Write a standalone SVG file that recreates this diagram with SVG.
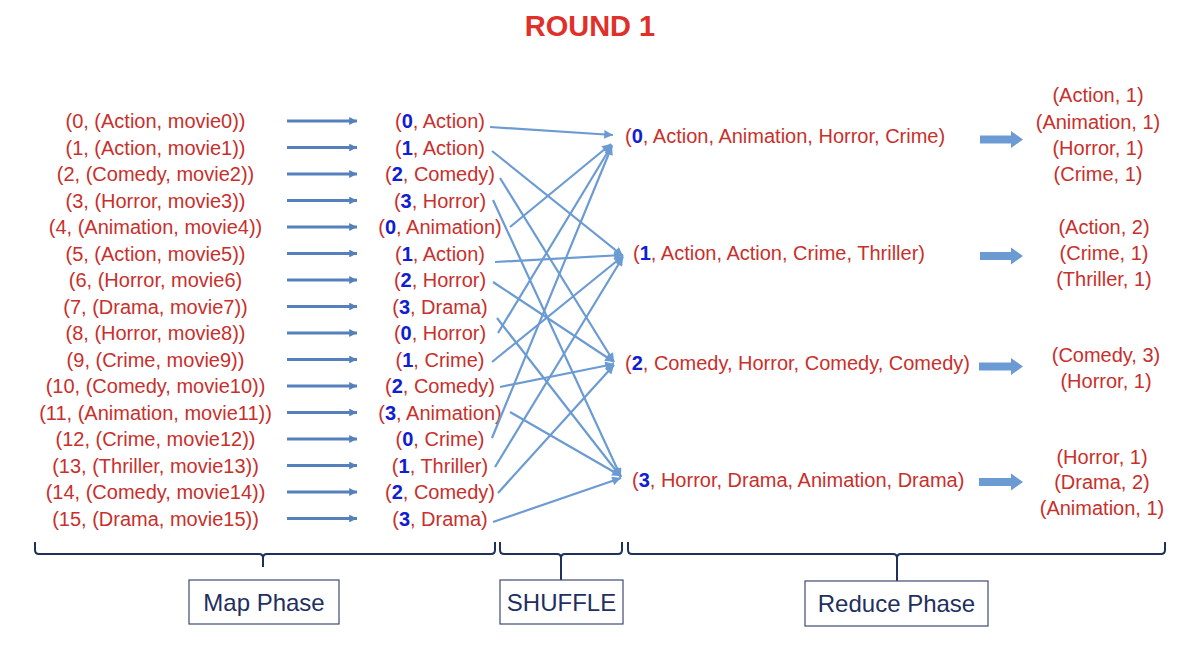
<svg xmlns="http://www.w3.org/2000/svg" width="1184" height="649" viewBox="0 0 1184 649">
<style>
text{font-family:"Liberation Sans",Arial,sans-serif;}
.t{font-size:20px;fill:#c8302c;text-anchor:middle;}
.r{font-size:20px;fill:#c8302c;}
.k{fill:#1020d0;font-weight:bold;}
.title{font-size:29px;font-weight:bold;fill:#e0302a;text-anchor:middle;}
.map{stroke:#5580bb;stroke-width:3;fill:none;}
.sh{stroke:#6b9bd2;stroke-width:2.2;fill:none;}
.fat{fill:#6b9bd2;}
.br{stroke:#1f2f5e;stroke-width:2;fill:none;}
.box{fill:#fff;stroke:#3c4b70;stroke-width:1.2;}
.lbl{font-size:24px;fill:#1f2f5e;text-anchor:middle;}
</style>
<defs>
<marker id="am" viewBox="0 0 10 10" refX="10" refY="5" markerWidth="3" markerHeight="2.6" orient="auto"><path d="M0,0 L10,5 L0,10 z" fill="#5580bb"/></marker>
<marker id="as" viewBox="0 0 10 10" refX="10" refY="5" markerWidth="4.8" markerHeight="4" orient="auto"><path d="M0,0 L10,5 L0,10 z" fill="#6b9bd2"/></marker>
</defs>
<rect width="1184" height="649" fill="#fff"/>
<text class="title" x="590" y="36">ROUND 1</text>

<g id="input">
<text class="t" x="155.5" y="128">(0, (Action, movie0))</text>
<text class="t" x="155.5" y="154.5">(1, (Action, movie1))</text>
<text class="t" x="155.5" y="181">(2, (Comedy, movie2))</text>
<text class="t" x="155.5" y="207.5">(3, (Horror, movie3))</text>
<text class="t" x="155.5" y="234">(4, (Animation, movie4))</text>
<text class="t" x="155.5" y="260.5">(5, (Action, movie5))</text>
<text class="t" x="155.5" y="287">(6, (Horror, movie6)</text>
<text class="t" x="155.5" y="313.5">(7, (Drama, movie7))</text>
<text class="t" x="155.5" y="340">(8, (Horror, movie8))</text>
<text class="t" x="155.5" y="366.5">(9, (Crime, movie9))</text>
<text class="t" x="155.5" y="393">(10, (Comedy, movie10))</text>
<text class="t" x="155.5" y="419.5">(11, (Animation, movie11))</text>
<text class="t" x="155.5" y="446">(12, (Crime, movie12))</text>
<text class="t" x="155.5" y="472.5">(13, (Thriller, movie13))</text>
<text class="t" x="155.5" y="499">(14, (Comedy, movie14))</text>
<text class="t" x="155.5" y="525.5">(15, (Drama, movie15))</text>
</g>

<g id="mapped">
<text class="t" x="440" y="128">(<tspan class="k">0</tspan>, Action)</text>
<text class="t" x="440" y="154.5">(<tspan class="k">1</tspan>, Action)</text>
<text class="t" x="440" y="181">(<tspan class="k">2</tspan>, Comedy)</text>
<text class="t" x="440" y="207.5">(<tspan class="k">3</tspan>, Horror)</text>
<text class="t" x="440" y="234">(<tspan class="k">0</tspan>, Animation)</text>
<text class="t" x="440" y="260.5">(<tspan class="k">1</tspan>, Action)</text>
<text class="t" x="440" y="287">(<tspan class="k">2</tspan>, Horror)</text>
<text class="t" x="440" y="313.5">(<tspan class="k">3</tspan>, Drama)</text>
<text class="t" x="440" y="340">(<tspan class="k">0</tspan>, Horror)</text>
<text class="t" x="440" y="366.5">(<tspan class="k">1</tspan>, Crime)</text>
<text class="t" x="440" y="393">(<tspan class="k">2</tspan>, Comedy)</text>
<text class="t" x="440" y="419.5">(<tspan class="k">3</tspan>, Animation)</text>
<text class="t" x="440" y="446">(<tspan class="k">0</tspan>, Crime)</text>
<text class="t" x="440" y="472.5">(<tspan class="k">1</tspan>, Thriller)</text>
<text class="t" x="440" y="499">(<tspan class="k">2</tspan>, Comedy)</text>
<text class="t" x="440" y="525.5">(<tspan class="k">3</tspan>, Drama)</text>
</g>

<g id="reducer0"><text class="r" x="625" y="143">(<tspan class="k">0</tspan>, Action, Animation, Horror, Crime)</text></g>
<g id="reducer1"><text class="r" x="633" y="260">(<tspan class="k">1</tspan>, Action, Action, Crime, Thriller)</text></g>
<g id="reducer2"><text class="r" x="625" y="370">(<tspan class="k">2</tspan>, Comedy, Horror, Comedy, Comedy)</text></g>
<g id="reducer3"><text class="r" x="632" y="487">(<tspan class="k">3</tspan>, Horror, Drama, Animation, Drama)</text></g>

<g id="output0">
<text class="t" x="1098" y="102">(Action, 1)</text>
<text class="t" x="1098" y="128.5">(Animation, 1)</text>
<text class="t" x="1098" y="155">(Horror, 1)</text>
<text class="t" x="1098" y="181">(Crime, 1)</text>
</g>
<g id="output1">
<text class="t" x="1104" y="234">(Action, 2)</text>
<text class="t" x="1104" y="260">(Crime, 1)</text>
<text class="t" x="1104" y="286">(Thriller, 1)</text>
</g>
<g id="output2">
<text class="t" x="1106" y="362">(Comedy, 3)</text>
<text class="t" x="1106" y="388">(Horror, 1)</text>
</g>
<g id="output3">
<text class="t" x="1102" y="463.5">(Horror, 1)</text>
<text class="t" x="1102" y="489">(Drama, 2)</text>
<text class="t" x="1102" y="514.5">(Animation, 1)</text>
</g>

<g id="connectors">
<g class="map" marker-end="url(#am)">
<line x1="287" y1="121" x2="357" y2="121"/>
<line x1="287" y1="147.5" x2="357" y2="147.5"/>
<line x1="287" y1="174" x2="357" y2="174"/>
<line x1="287" y1="200.5" x2="357" y2="200.5"/>
<line x1="287" y1="227" x2="357" y2="227"/>
<line x1="287" y1="253.5" x2="357" y2="253.5"/>
<line x1="287" y1="280" x2="357" y2="280"/>
<line x1="287" y1="306.5" x2="357" y2="306.5"/>
<line x1="287" y1="333" x2="357" y2="333"/>
<line x1="287" y1="359.5" x2="357" y2="359.5"/>
<line x1="287" y1="386" x2="357" y2="386"/>
<line x1="287" y1="412.5" x2="357" y2="412.5"/>
<line x1="287" y1="439" x2="357" y2="439"/>
<line x1="287" y1="465.5" x2="357" y2="465.5"/>
<line x1="287" y1="492" x2="357" y2="492"/>
<line x1="287" y1="518.5" x2="357" y2="518.5"/>
</g>
<g class="sh" marker-end="url(#as)">
<line x1="490" y1="127" x2="613" y2="135"/>
<line x1="492" y1="151" x2="623" y2="256"/>
<line x1="500" y1="178" x2="614" y2="362"/>
<line x1="493" y1="200" x2="621" y2="477"/>
<line x1="510" y1="227" x2="611" y2="144"/>
<line x1="495" y1="262" x2="623" y2="255"/>
<line x1="493" y1="282" x2="614" y2="362"/>
<line x1="497" y1="318" x2="621" y2="477"/>
<line x1="498" y1="333" x2="612" y2="145"/>
<line x1="492" y1="362" x2="623" y2="256"/>
<line x1="500" y1="387" x2="614" y2="364"/>
<line x1="510" y1="412" x2="621" y2="476"/>
<line x1="492" y1="438" x2="612" y2="146"/>
<line x1="495" y1="467" x2="623" y2="257"/>
<line x1="498" y1="493" x2="614" y2="365"/>
<line x1="493" y1="522" x2="621" y2="478"/>
</g>
<path class="fat" d="M980,135.5 H1011 V131 L1023,139.5 L1011,148 V143.5 H980 z"/>
<path class="fat" d="M980,252 H1011 V247.5 L1023,256 L1011,264.5 V260 H980 z"/>
<path class="fat" d="M979,362.5 H1011 V358 L1023,366.5 L1011,375 V370.5 H979 z"/>
<path class="fat" d="M979,478 H1011 V473.5 L1023,482 L1011,490.5 V486 H979 z"/>
</g>

<g id="map-phase">
<path class="br" d="M35,542 V550 Q35,554 39,554 H259 Q263,554 263,558 V567 M263,558 Q263,554 267,554 H491 Q495,554 495,550 V542"/>
<rect class="box" x="189" y="580" width="150" height="44"/>
<text class="lbl" x="264" y="611">Map Phase</text>
</g>
<g id="shuffle">
<path class="br" d="M500,542 V550 Q500,554 504,554 H557 Q561,554 561,558 V581 M561,558 Q561,554 565,554 H618 Q622,554 622,550 V542"/>
<rect class="box" x="500" y="580" width="123" height="44"/>
<text class="lbl" x="561.5" y="611">SHUFFLE</text>
</g>
<g id="reduce-phase">
<path class="br" d="M628,542 V550 Q628,554 632,554 H893 Q897,554 897,558 V581 M897,558 Q897,554 901,554 H1161 Q1165,554 1165,550 V542"/>
<rect class="box" x="805" y="581" width="183" height="45"/>
<text class="lbl" x="896.5" y="612">Reduce Phase</text>
</g>
</svg>
